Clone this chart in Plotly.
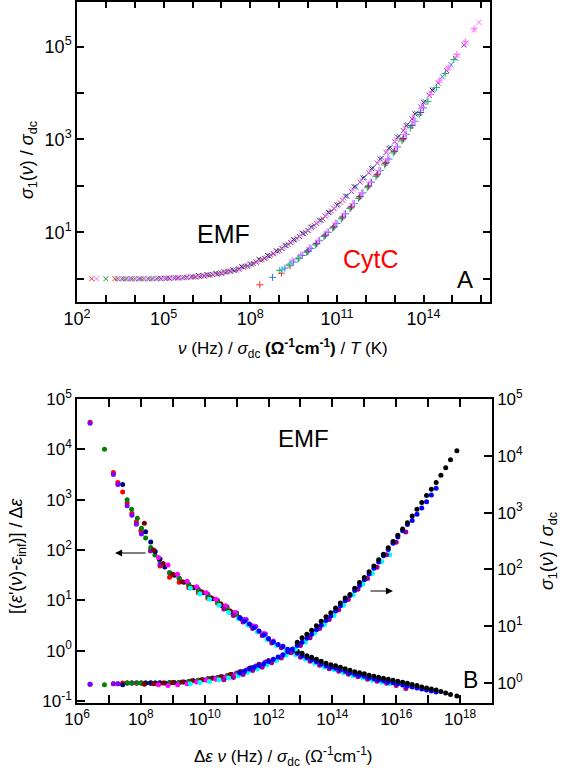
import plotly.graph_objects as go

# ---------------- Panel A (top): log10 values ----------------
# EMF series (x markers): log10(nu/sigma_dc/T), log10(sigma1/sigma_dc)
emf_red_x = [2.51, 3.31, 3.61, 3.91, 4.21, 4.51, 4.81, 5.11, 5.41, 5.71, 6.01, 6.31, 6.61, 6.91, 7.21, 7.51, 7.81, 8.11, 8.41, 8.71, 9.01, 9.31, 9.61, 9.91, 10.21, 10.51, 10.81, 11.11]
emf_red_y = [0.0, 0.0, 0.0, 0.0, 0.0, 0.0, 0.01, 0.01, 0.02, 0.03, 0.04, 0.06, 0.08, 0.11, 0.15, 0.19, 0.27, 0.33, 0.41, 0.51, 0.61, 0.74, 0.87, 1.00, 1.15, 1.29, 1.46, 1.64]
emf_pink_x = [2.68, 3.46, 3.76, 4.06, 4.36, 4.66, 4.96, 5.26, 5.56, 5.86, 6.16, 6.46, 6.76, 7.06, 7.36, 7.66, 7.96, 8.26, 8.56, 8.86, 9.16, 9.46, 9.76, 10.06, 10.36, 10.66, 10.96, 11.26, 11.56, 11.86, 12.16, 12.46, 12.76, 13.06, 13.36, 13.66, 13.96, 14.26, 14.56, 14.86, 15.16, 15.46, 15.76, 15.92]
emf_pink_y = [0.0, 0.0, 0.0, 0.0, 0.0, 0.0, 0.01, 0.02, 0.02, 0.04, 0.05, 0.07, 0.10, 0.13, 0.17, 0.22, 0.29, 0.37, 0.46, 0.56, 0.68, 0.80, 0.94, 1.07, 1.22, 1.38, 1.55, 1.73, 1.92, 2.12, 2.32, 2.53, 2.74, 3.00, 3.25, 3.50, 3.75, 4.00, 4.26, 4.53, 4.81, 5.08, 5.36, 5.52]
emf_green_x = [3.0, 3.4, 3.7, 4.0, 4.3, 4.6, 4.9, 5.2, 5.5, 5.8, 6.1, 6.4, 6.7, 7.0, 7.3, 7.6, 7.9, 8.2, 8.5, 8.8, 9.1, 9.4, 9.7, 10.0]
emf_green_y = [0.0, 0.0, 0.0, 0.0, 0.0, 0.0, 0.0, 0.01, 0.02, 0.03, 0.04, 0.06, 0.09, 0.12, 0.16, 0.21, 0.28, 0.36, 0.44, 0.54, 0.65, 0.78, 0.91, 1.04]
emf_blue_x = [3.55, 3.85, 4.15, 4.45, 4.75, 5.05, 5.35, 5.65, 5.95, 6.25, 6.55, 6.85, 7.15, 7.45, 7.75, 8.05, 8.35, 8.65, 8.95, 9.25, 9.55, 9.85, 10.15, 10.45, 10.75, 11.05, 11.35, 11.65, 11.95, 12.25, 12.55, 12.85, 13.15, 13.45, 13.75, 14.05, 14.35, 14.65, 14.95]
emf_blue_y = [0.0, 0.0, 0.0, 0.0, 0.0, 0.01, 0.02, 0.02, 0.04, 0.05, 0.08, 0.10, 0.14, 0.18, 0.25, 0.31, 0.40, 0.49, 0.59, 0.71, 0.84, 0.97, 1.12, 1.26, 1.43, 1.60, 1.78, 1.98, 2.18, 2.39, 2.60, 2.83, 3.07, 3.32, 3.57, 3.82, 4.08, 4.35, 4.61]
emf_dark_x = [6.2, 6.5, 6.8, 7.1, 7.4, 7.7, 8.0, 8.3, 8.6, 8.9, 9.2, 9.5, 9.8, 10.1, 10.4, 10.7, 11.0, 11.3, 11.6, 11.9, 12.2, 12.5, 12.8, 13.1, 13.4, 13.7, 14.0, 14.3]
emf_dark_y = [0.07, 0.09, 0.12, 0.15, 0.19, 0.26, 0.32, 0.42, 0.50, 0.60, 0.72, 0.84, 0.98, 1.11, 1.26, 1.43, 1.59, 1.78, 1.98, 2.17, 2.37, 2.58, 2.81, 3.05, 3.30, 3.55, 3.80, 4.06]
emf_purple_x = [4.9, 5.2, 5.5, 5.8, 6.1, 6.4, 6.7, 7.0, 7.3, 7.6, 7.9, 8.2, 8.5, 8.8, 9.1, 9.4, 9.7, 10.0, 10.3, 10.6, 10.9, 11.2, 11.5, 11.8, 12.1, 12.4, 12.7, 13.0, 13.3, 13.6, 13.9, 14.2, 14.5, 14.8, 15.1, 15.4]
emf_purple_y = [0.01, 0.01, 0.02, 0.03, 0.04, 0.06, 0.09, 0.12, 0.16, 0.21, 0.27, 0.36, 0.44, 0.54, 0.65, 0.78, 0.91, 1.04, 1.19, 1.35, 1.51, 1.69, 1.88, 2.08, 2.28, 2.49, 2.72, 2.95, 3.19, 3.44, 3.70, 3.95, 4.21, 4.48, 4.75, 5.03]

# CytC series (+ markers)
cyt_red_x = [8.33, 9.08, 9.38, 9.68, 9.98, 10.28, 10.58, 10.88, 11.18, 11.48, 11.78, 12.08, 12.38, 12.68, 12.98, 13.28]
cyt_red_y = [-0.13, 0.12, 0.28, 0.44, 0.59, 0.75, 0.93, 1.11, 1.31, 1.53, 1.76, 1.99, 2.23, 2.48, 2.74, 3.00]
cyt_blue_x = [8.77, 9.2, 9.5, 9.8, 10.1, 10.4, 10.7, 11.0, 11.3, 11.6, 11.9, 12.2, 12.5, 12.8, 13.1, 13.4, 13.7, 14.0]
cyt_blue_y = [0.03, 0.23, 0.36, 0.50, 0.65, 0.82, 1.00, 1.19, 1.40, 1.62, 1.85, 2.08, 2.33, 2.58, 2.84, 3.11, 3.39, 3.68]
cyt_green_x = [9.02, 9.35, 9.65, 9.95, 10.25, 10.55, 10.85, 11.15, 11.45, 11.75, 12.05, 12.35, 12.65, 12.95, 13.25, 13.55, 13.85, 14.15, 14.45, 14.75, 15.05]
cyt_green_y = [0.18, 0.30, 0.43, 0.57, 0.73, 0.91, 1.09, 1.29, 1.51, 1.73, 1.96, 2.20, 2.45, 2.71, 2.97, 3.25, 3.53, 3.82, 4.12, 4.42, 4.72]
cyt_pink_x = [9.45, 9.75, 10.05, 10.35, 10.65, 10.95, 11.25, 11.55, 11.85, 12.15, 12.45, 12.75, 13.05, 13.35, 13.65, 13.95, 14.25, 14.55, 14.85, 15.15, 15.45, 15.75]
cyt_pink_y = [0.40, 0.52, 0.67, 0.83, 1.01, 1.20, 1.40, 1.62, 1.85, 2.08, 2.33, 2.58, 2.84, 3.11, 3.39, 3.68, 3.97, 4.26, 4.54, 4.83, 5.10, 5.38]
cyt_purple_x = [10.0, 10.3, 10.6, 10.9, 11.2, 11.5, 11.8, 12.1, 12.4, 12.7, 13.0, 13.3, 13.6, 13.9]
cyt_purple_y = [0.60, 0.76, 0.94, 1.12, 1.33, 1.55, 1.77, 2.00, 2.25, 2.50, 2.75, 3.02, 3.30, 3.58]
cyt_cyan_x = [9.1, 9.4, 9.7, 10.0, 10.3, 10.6]
cyt_cyan_y = [0.20, 0.33, 0.46, 0.60, 0.76, 0.94]

# ---------------- Panel B (bottom): log10 x, log10 eps-norm (left), log10 sigma-norm (right) ----------------
b_red_x = [6.41, 7.14, 7.28, 7.43, 7.57, 7.72, 7.86, 8.0, 8.3, 8.6, 8.9, 9.2, 9.5, 9.8, 10.1, 10.4]
b_red_e = [4.54, 3.54, 3.34, 3.15, 2.94, 2.73, 2.56, 2.38, 1.98, 1.68, 1.46, 1.36, 1.25, 1.15, 1.04, 0.94]
b_red_s = [-0.02, -0.01, -0.01, 0.0, 0.0, 0.0, 0.0, 0.0, 0.0, 0.0, 0.01, 0.01, 0.02, 0.04, 0.07, 0.09]

b_violet_x = [6.41, 7.14, 7.28, 7.57, 7.72, 7.86, 8.02, 8.31, 8.6, 8.9, 9.2, 9.5, 9.8, 10.1, 10.4, 10.7, 11.0, 11.3, 11.6, 11.9]
b_violet_e = [4.52, 3.50, 3.30, 2.88, 2.69, 2.51, 2.32, 1.99, 1.72, 1.55, 1.44, 1.32, 1.22, 1.12, 1.00, 0.87, 0.75, 0.62, 0.48, 0.33]
b_violet_s = [-0.02, -0.01, -0.01, 0.0, 0.0, 0.0, 0.0, 0.0, 0.0, 0.0, 0.01, 0.03, 0.05, 0.08, 0.10, 0.13, 0.18, 0.23, 0.30, 0.37]

b_green_x = [6.86, 7.57, 7.71, 7.89, 8.02, 8.15, 8.31, 8.44, 8.58, 8.9, 9.2, 9.5, 9.8, 10.1, 10.4, 10.7, 11.0]
b_green_e = [4.0, 3.0, 2.81, 2.63, 2.43, 2.24, 2.05, 1.90, 1.80, 1.55, 1.44, 1.31, 1.19, 1.08, 0.97, 0.84, 0.71]
b_green_s = [-0.03, 0.0, 0.0, 0.0, 0.0, 0.0, 0.0, 0.0, 0.0, 0.01, 0.01, 0.03, 0.05, 0.07, 0.09, 0.13, 0.17]

b_navy_x = [7.43, 8.15, 8.31, 8.45, 8.6, 8.75, 9.05, 9.35, 9.65, 9.95, 10.25, 10.55, 10.85, 11.15, 11.45]
b_navy_e = [3.30, 2.36, 2.16, 1.97, 1.82, 1.66, 1.50, 1.36, 1.25, 1.15, 1.03, 0.89, 0.76, 0.63, 0.50]
b_navy_s = [-0.03, 0.0, 0.0, 0.0, 0.0, 0.0, 0.01, 0.02, 0.04, 0.06, 0.09, 0.11, 0.15, 0.20, 0.27]

b_darkred_x = [8.11, 8.4, 8.7, 9.0, 9.3, 9.6, 9.9, 10.2, 10.5, 10.8, 11.1, 11.4, 11.7, 12.0]
b_darkred_e = [2.53, 2.0, 1.73, 1.52, 1.37, 1.26, 1.17, 1.05, 0.93, 0.79, 0.66, 0.52, 0.38, 0.22]
b_darkred_s = [-0.02, -0.01, 0.0, 0.01, 0.02, 0.04, 0.06, 0.08, 0.11, 0.15, 0.20, 0.26, 0.33, 0.40]

b_magenta_x = [8.55, 8.85, 9.15, 9.45, 9.75, 10.05, 10.35, 10.65, 10.95, 11.25, 11.55, 11.85, 12.15, 12.45]
b_magenta_e = [1.85, 1.70, 1.52, 1.38, 1.27, 1.15, 1.02, 0.89, 0.76, 0.62, 0.49, 0.34, 0.19, 0.08]
b_magenta_s = [-0.03, -0.04, -0.03, -0.01, 0.02, 0.05, 0.07, 0.10, 0.14, 0.19, 0.26, 0.33, 0.41, 0.49]

b_cyan_x = [9.55, 9.85, 10.15, 10.45, 10.75, 11.05, 11.35, 11.65, 11.95, 12.25, 12.55, 12.85, 13.15, 13.45, 13.75, 14.05, 14.35, 14.65, 14.95, 15.25, 15.55, 15.8]
b_cyan_e = [1.24, 1.13, 1.02, 0.90, 0.76, 0.64, 0.51, 0.37, 0.22, 0.10, 0.01, -0.08, -0.17, -0.25, -0.33, -0.38, -0.44, -0.50, -0.54, -0.59, -0.63, -0.66]
b_cyan_s = [-0.01, 0.01, 0.03, 0.06, 0.09, 0.13, 0.19, 0.25, 0.32, 0.40, 0.49, 0.60, 0.72, 0.88, 1.03, 1.19, 1.37, 1.55, 1.74, 1.93, 2.14, 2.26]

b_purple_x = [10.6, 10.9, 11.2, 11.5, 11.8, 12.1, 12.4, 12.7, 13.0, 13.3, 13.6, 13.9, 14.2, 14.5, 14.8, 15.1, 15.4, 15.7, 16.0, 16.3]
b_purple_e = [0.83, 0.70, 0.57, 0.44, 0.30, 0.15, 0.06, -0.04, -0.13, -0.21, -0.29, -0.36, -0.41, -0.47, -0.52, -0.57, -0.61, -0.65, -0.69, -0.75]
b_purple_s = [0.06, 0.10, 0.15, 0.22, 0.28, 0.36, 0.44, 0.54, 0.66, 0.80, 0.96, 1.12, 1.29, 1.47, 1.65, 1.84, 2.04, 2.26, 2.48, 2.66]

b_blue_x = [11.1, 11.25, 11.4, 11.55, 11.7, 11.85, 12.0, 12.15, 12.3, 12.45, 12.6, 12.75, 12.9, 13.05, 13.2, 13.35, 13.5, 13.65, 13.8, 13.95, 14.1, 14.25, 14.4, 14.55, 14.7, 14.85, 15.0, 15.15, 15.3, 15.45, 15.6, 15.75, 15.9, 16.05, 16.2, 16.35, 16.5, 16.65, 16.8, 16.95, 17.1, 17.25]
b_blue_e = [0.65, 0.59, 0.53, 0.46, 0.39, 0.31, 0.24, 0.17, 0.12, 0.09, 0.03, -0.01, -0.05, -0.10, -0.14, -0.18, -0.22, -0.26, -0.30, -0.33, -0.35, -0.38, -0.41, -0.44, -0.47, -0.49, -0.51, -0.54, -0.56, -0.58, -0.60, -0.62, -0.64, -0.66, -0.68, -0.70, -0.72, -0.74, -0.76, -0.78, -0.80, -0.82]
b_blue_s = [0.18, 0.21, 0.25, 0.28, 0.31, 0.34, 0.38, 0.42, 0.46, 0.50, 0.55, 0.60, 0.66, 0.72, 0.79, 0.86, 0.94, 1.02, 1.10, 1.18, 1.27, 1.36, 1.45, 1.54, 1.63, 1.72, 1.82, 1.92, 2.02, 2.13, 2.24, 2.35, 2.46, 2.57, 2.68, 2.79, 2.86, 2.97, 3.08, 3.19, 3.31, 3.43]

b_black_x = [12.9, 13.05, 13.2, 13.35, 13.5, 13.65, 13.8, 13.95, 14.1, 14.25, 14.4, 14.55, 14.7, 14.85, 15.0, 15.15, 15.3, 15.45, 15.6, 15.75, 15.9, 16.05, 16.2, 16.35, 16.5, 16.65, 16.8, 16.95, 17.1, 17.25, 17.4, 17.55, 17.7, 17.9]
b_black_e = [-0.01, -0.05, -0.10, -0.13, -0.17, -0.21, -0.25, -0.28, -0.30, -0.33, -0.36, -0.39, -0.42, -0.44, -0.46, -0.49, -0.51, -0.53, -0.55, -0.57, -0.59, -0.61, -0.63, -0.65, -0.67, -0.69, -0.72, -0.74, -0.76, -0.78, -0.81, -0.84, -0.87, -0.90]
b_black_s = [0.72, 0.80, 0.86, 0.93, 1.01, 1.09, 1.17, 1.24, 1.32, 1.41, 1.50, 1.56, 1.67, 1.77, 1.86, 1.96, 2.06, 2.17, 2.27, 2.38, 2.49, 2.60, 2.71, 2.82, 2.94, 3.06, 3.18, 3.30, 3.41, 3.53, 3.66, 3.79, 3.93, 4.09]

# tick decades
top_x_decades = list(range(2, 17))
top_x_labeled = [2, 5, 8, 11, 14]
top_y_decades = list(range(0, 6))
top_y_labeled = [1, 3, 5]
bot_x_decades = list(range(6, 19))
bot_x_labeled = [6, 8, 10, 12, 14, 16, 18]
bot_yl_decades = list(range(-1, 6))
bot_yr_decades = list(range(0, 6))

W, H = 566, 772
FONT = "Arial, 'Liberation Sans', sans-serif"


def p10(vals):
    return [10 ** v for v in vals]


def px(x):
    return x / W


def py(y):
    return 1 - y / H


fig = go.Figure()

top_series = [
    (emf_red_x, emf_red_y, "#ff3030", "x-thin"),
    (emf_green_x, emf_green_y, "#20a040", "x-thin"),
    (emf_blue_x, emf_blue_y, "#4070ff", "x-thin"),
    (emf_purple_x, emf_purple_y, "#a030c0", "x-thin"),
    (emf_dark_x, emf_dark_y, "#303048", "x-thin"),
    (emf_pink_x, emf_pink_y, "#ff70ff", "x-thin"),
    (cyt_red_x, cyt_red_y, "#ff3030", "cross-thin"),
    (cyt_blue_x, cyt_blue_y, "#4070ff", "cross-thin"),
    (cyt_green_x, cyt_green_y, "#20b060", "cross-thin"),
    (cyt_cyan_x, cyt_cyan_y, "#30d0e0", "cross-thin"),
    (cyt_purple_x, cyt_purple_y, "#7030a0", "cross-thin"),
    (cyt_pink_x, cyt_pink_y, "#ff70ff", "cross-thin"),
]
for xs, ys, c, sym in top_series:
    fig.add_trace(go.Scatter(
        x=p10(xs), y=p10(ys), mode="markers", xaxis="x", yaxis="y",
        marker=dict(symbol=sym, size=5, color=c, line=dict(width=1, color=c)),
        showlegend=False, hoverinfo="skip"))

bot_series = [
    (b_red_x, b_red_e, b_red_s, "#ff0000"),
    (b_violet_x, b_violet_e, b_violet_s, "#8000ff"),
    (b_green_x, b_green_e, b_green_s, "#008000"),
    (b_navy_x, b_navy_e, b_navy_s, "#000080"),
    (b_darkred_x, b_darkred_e, b_darkred_s, "#800000"),
    (b_magenta_x, b_magenta_e, b_magenta_s, "#ff00ff"),
    (b_cyan_x, b_cyan_e, b_cyan_s, "#00ffff"),
    (b_purple_x, b_purple_e, b_purple_s, "#990099"),
    (b_blue_x, b_blue_e, b_blue_s, "#0000ff"),
    (b_black_x, b_black_e, b_black_s, "#000000"),
]
for xs, es, ss, c in bot_series:
    fig.add_trace(go.Scatter(
        x=p10(xs), y=p10(es), mode="markers", xaxis="x2", yaxis="y2",
        marker=dict(symbol="circle", size=5, color=c, line=dict(width=0)),
        showlegend=False, hoverinfo="skip"))
    fig.add_trace(go.Scatter(
        x=p10(xs), y=p10(ss), mode="markers", xaxis="x2", yaxis="y3",
        marker=dict(symbol="circle", size=5, color=c, line=dict(width=0)),
        showlegend=False, hoverinfo="skip"))


def labels(decades):
    return ["10<sup>%d</sup>" % d for d in decades]


def make_axis(rng, domain, anchor, all_dec, lab_dec, ticklen, size, **kw):
    d = dict(type="log", range=rng, domain=domain, anchor=anchor,
             automargin=False, showgrid=False, zeroline=False, showline=True,
             linecolor="black", linewidth=1.5,
             ticks="inside", ticklen=ticklen, tickwidth=1.5, tickcolor="black",
             tickmode="array", tickvals=p10(lab_dec), ticktext=labels(lab_dec),
             tickfont=dict(family=FONT, size=size, color="black"),
             minor=dict(tickmode="array", tickvals=p10(all_dec), ticks="inside",
                        ticklen=ticklen, tickwidth=1.5, tickcolor="black", showgrid=False))
    d.update(kw)
    return d


fig.update_layout(
    template="none",
    width=W, height=H, margin=dict(l=0, r=0, t=0, b=0, pad=0, autoexpand=False),
    paper_bgcolor="white", plot_bgcolor="white",
    font=dict(family=FONT, color="black"),
    showlegend=False,
    xaxis=make_axis([2, 16.3], [px(77), px(490)], "y", top_x_decades, top_x_labeled, 7, 18, mirror="ticks"),
    yaxis=make_axis([-0.5, 5.97], [py(302), py(1.5)], "x", top_y_decades, top_y_labeled, 7, 18, mirror="ticks"),
    xaxis2=make_axis([6, 19], [px(77), px(492)], "y2", bot_x_decades, bot_x_labeled, 8, 17, mirror="ticks"),
    yaxis2=make_axis([-1.04, 5], [py(703), py(399)], "x2", bot_yl_decades, bot_yl_decades, 8, 17),
    yaxis3=make_axis([-0.35, 5], [py(703), py(399)], "x2", bot_yr_decades, bot_yr_decades, 8, 17,
                     overlaying="y2", side="right"),
)

ann = []


def text(x, y, s, size, color="black", angle=0):
    ann.append(dict(x=px(x), y=py(y), xref="paper", yref="paper", text=s,
                    showarrow=False, xanchor="center", yanchor="middle",
                    textangle=angle, font=dict(family=FONT, size=size, color=color)))


# panel labels and sample names
text(223, 234, "EMF", 25)
text(371, 259, "CytC", 25, color="#ff0000")
text(465, 280, "A", 24)
text(303, 438, "EMF", 24)
text(470, 680, "B", 23)

# axis titles
text(29, 160, "<i>σ</i><sub>1</sub>(<i>ν</i>) / <i>σ</i><sub>dc</sub>", 18, angle=-90)
text(283, 348, "<i>ν</i> (Hz) / <i>σ</i><sub>dc</sub> <b>(Ω<sup>-1</sup>cm<sup>-1</sup>)</b> / <i>T</i> (K)", 17)
text(283, 756, "Δ<i>ε</i> <i>ν</i> (Hz) / <i>σ</i><sub>dc</sub> (Ω<sup>-1</sup>cm<sup>-1</sup>)", 17)
text(17, 556, "[(<i>ε</i>'(<i>ν</i>)-<i>ε</i><sub>inf</sub>)] / Δ<i>ε</i>", 18, angle=-90)
text(548, 551, "<i>σ</i><sub>1</sub>(<i>ν</i>) / <i>σ</i><sub>dc</sub>", 18, angle=-90)

# arrows indicating which axis each curve belongs to
ann.append(dict(x=px(115), y=py(553), xref="paper", yref="paper", ax=32, ay=0,
                axref="pixel", ayref="pixel", text="", showarrow=True,
                arrowhead=2, arrowsize=1.3, arrowwidth=1.1, arrowcolor="black", standoff=0))
ann.append(dict(x=px(393), y=py(591), xref="paper", yref="paper", ax=-24, ay=0,
                axref="pixel", ayref="pixel", text="", showarrow=True,
                arrowhead=2, arrowsize=1.3, arrowwidth=1.1, arrowcolor="black", standoff=0))

fig.update_layout(annotations=ann)
fig.write_html("out.html", config={"displayModeBar": False},
               post_script="document.body.style.margin='0';document.body.style.padding='0';")
